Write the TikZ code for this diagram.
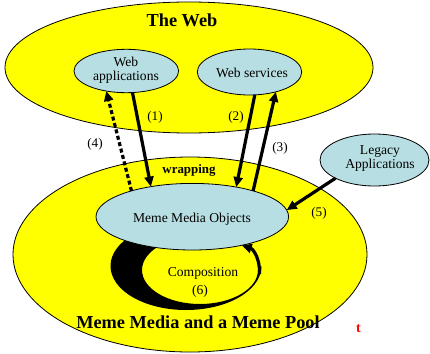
\documentclass[tikz,border=0pt]{standalone}
\usepackage{fontspec}
\setmainfont{Liberation Serif}
\usetikzlibrary{arrows.meta,shapes.geometric}
\definecolor{poolyellow}{RGB}{255,255,0}
\definecolor{objblue}{RGB}{183,222,226}
\begin{document}
\begin{tikzpicture}[x=1pt,y=1pt,
  region/.style={ellipse,draw=black,line width=0.8pt,fill=poolyellow,inner sep=0pt,outer sep=0pt},
  item/.style={ellipse,draw=black,line width=0.8pt,fill=objblue,inner sep=0pt,outer sep=0pt},
  itemtext/.style={align=center,inner sep=0pt,font=\fontsize{13.6}{14.5}\selectfont},
  flow/.style={line width=3.2pt,-{Triangle[length=10pt,width=9pt]}},
  hint/.style={inner sep=0pt,font=\fontsize{13.2}{14}\selectfont},
  title/.style={inner sep=0pt,font=\bfseries\fontsize{18.3}{20}\selectfont}]
\useasboundingbox (0,0) rectangle (430,-353);
\fill[white] (0,0) rectangle (430,-353);

% the two large regions
\node[region,minimum width=368,minimum height=131] (web) at (189,-67.5) {};
\node[region,minimum width=354,minimum height=195] (pool) at (190,-254.5) {};

% composition crescent below the meme media objects
\fill[black] (186,-266) ++(140:75.5 and 44) arc[start angle=140,end angle=360,x radius=75.5,y radius=44]
  -- (258,-270) arc[start angle=0,end angle=-228,x radius=58,y radius=34] -- cycle;
\coordinate (cstart) at (259.6,-274);

% objects
\node[item,minimum width=104.6,minimum height=43.4] (webapp) at (126.3,-71) {};
\node[item,minimum width=104.4,minimum height=46] (websvc) at (249.5,-72) {};
\node[item,minimum width=109,minimum height=52] (legacy) at (374.5,-160) {};
\node[item,minimum width=192.6,minimum height=66.6] (mmo) at (192.3,-216.7) {};

\node[itemtext] (webapptext) at (126,-70) {Web\\applications};
\node[itemtext] (websvctext) at (252,-73) {Web services};
\node[itemtext] (legacytext) at (380,-158.5) {Legacy\\Applications};
\node[itemtext] (mmotext) at (192,-219.5) {Meme Media Objects};
\node[itemtext] (comptext) at (203,-273.5) {Composition};
\node[itemtext] (sixtext) at (200,-291) {(6)};

% titles
\node[title] (webtitle) at (182,-20) {The Web};
\node[title] (pooltitle) at (198,-322) {Meme Media and a Meme Pool};
\node[inner sep=0pt,font=\bfseries\fontsize{12.9}{14}\selectfont] (wraptext) at (189,-170) {wrapping};
\node[inner sep=0pt,text=red,font=\bfseries\fontsize{14}{16}\selectfont] (mark) at (358.5,-328.5) {t};

% connectors
\draw[flow] (webapp.-74) -- (mmo.144);
\draw[flow,dash pattern=on 4pt off 2.6pt] (mmo.157) -- (webapp.-135);
\draw[flow] (websvc.-77) -- (mmo.34.5);
\draw[flow] (mmo.23) -- (websvc.-37);
\draw[flow] (legacy.205) -- (mmo.4);
\draw[line width=3.2pt,-{Triangle[length=10pt,width=9pt]}] (cstart) .. controls (260,-258) and (253,-249) .. (mmo.-30);

% connector labels
\node[hint] (l1) at (155,-117) {(1)};
\node[hint] (l2) at (236,-117) {(2)};
\node[hint] (l3) at (280,-148) {(3)};
\node[hint] (l4) at (95,-144) {(4)};
\node[hint] (l5) at (319,-213) {(5)};
\end{tikzpicture}
\end{document}
